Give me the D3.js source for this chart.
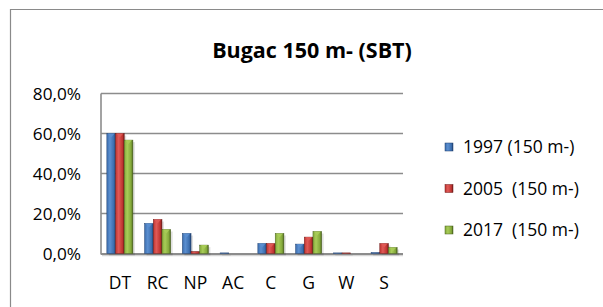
<!DOCTYPE html>
<html>
<head>
<meta charset="utf-8">
<script src="https://cdn.jsdelivr.net/npm/d3@7"></script>
<style>
  body { margin: 0; background: #fff; }
  text { font-family: "Open Sans", Lato, sans-serif; fill: #000; }
</style>
</head>
<body>
<div id="graph"></div>
<script>
var categories = ['DT', 'RC', 'NP', 'AC', 'C', 'G', 'W', 'S'];
var seriesNames = ['1997 (150 m-)', '2005  (150 m-)', '2017  (150 m-)'];
var values1997 = [60, 15, 10, 0.3, 5, 4.7, 0.3, 0.5];
var values2005 = [60, 17, 1, 0, 5, 8.2, 0.3, 5];
var values2017 = [56.7, 12, 4.2, 0, 10, 11, 0, 3];
var yTicks = [0, 20, 40, 60, 80];
var colors = [
  {light: '#5b8fd0', mid: '#3c6eae', dark: '#1f3f6e'},
  {light: '#e05a57', mid: '#bf3431', dark: '#6e1a18'},
  {light: '#a8cc58', mid: '#83a83a', dark: '#48601c'}
];

var width = 603, height = 307;
var plot = {left: 101, right: 403, top: 93.5, bottom: 253.5};

var svg = d3.select('#graph').append('svg')
  .attr('width', width).attr('height', height);

var defs = svg.append('defs');
colors.forEach(function(c, i){
  var g = defs.append('linearGradient').attr('id', 'grad' + i)
    .attr('x1', '0').attr('x2', '1').attr('y1', '0').attr('y2', '0');
  g.append('stop').attr('offset', '0%').attr('stop-color', c.mid);
  g.append('stop').attr('offset', '35%').attr('stop-color', c.light);
  g.append('stop').attr('offset', '80%').attr('stop-color', c.mid);
  g.append('stop').attr('offset', '100%').attr('stop-color', c.dark);
});

// outer chart border
svg.append('path')
  .attr('d', 'M10.5,' + height + 'V9.5H' + width)
  .attr('fill', 'none').attr('stroke', '#8a8a8a').attr('stroke-width', 1.2);

svg.append('text')
  .attr('x', 312).attr('y', 58)
  .attr('text-anchor', 'middle')
  .style('font-weight', 'bold').style('font-size', '21.5px')
  .text('Bugac 150 m- (SBT)');

var y = d3.scaleLinear().domain([0, 80]).range([plot.bottom, plot.top]);
var x0 = d3.scaleBand().domain(categories).range([plot.left, plot.right]).paddingInner(0.31).paddingOuter(0.155);
var x1 = d3.scaleBand().domain(d3.range(3)).range([0, x0.bandwidth()]);

// gridlines
svg.append('g').selectAll('line').data(yTicks.slice(1)).enter()
  .append('line')
  .attr('x1', plot.left).attr('x2', plot.right)
  .attr('y1', function(d){ return y(d); }).attr('y2', function(d){ return y(d); })
  .attr('stroke', '#8c8c8c').attr('stroke-width', 1.6);

// y axis
var yAxis = d3.axisLeft(y).tickValues(yTicks).tickSize(0).tickPadding(20)
  .tickFormat(function(d){ return d.toFixed(1).replace('.', ',') + '%'; });
var yg = svg.append('g').attr('transform', 'translate(' + plot.left + ',0)').call(yAxis);
yg.select('.domain').remove();
yg.selectAll('text').style('font-size', '17.2px').attr('dy', '0.36em');

svg.append('line')
  .attr('x1', plot.left).attr('x2', plot.left)
  .attr('y1', plot.top).attr('y2', plot.bottom + 1)
  .attr('stroke', '#8c8c8c').attr('stroke-width', 1.6);

// floor
svg.append('line')
  .attr('x1', plot.left).attr('x2', plot.right)
  .attr('y1', plot.bottom + 0.5).attr('y2', plot.bottom + 0.5)
  .attr('stroke', '#8c8c8c').attr('stroke-width', 2);
svg.append('line')
  .attr('x1', plot.left + 1).attr('x2', plot.right)
  .attr('y1', plot.bottom + 2.2).attr('y2', plot.bottom + 2.2)
  .attr('stroke', '#d6d6d6').attr('stroke-width', 1.2);

// x axis labels
var xAxis = d3.axisBottom(x0).tickSize(0).tickPadding(23);
var xg = svg.append('g').attr('transform', 'translate(0,' + plot.bottom + ')').call(xAxis);
xg.select('.domain').remove();
xg.selectAll('text').style('font-size', '17.5px');

// bars
var allSeries = [values1997, values2005, values2017];
var rows = [];
categories.forEach(function(cat, ci){
  allSeries.forEach(function(vals, si){
    rows.push({cat: cat, s: si, v: vals[ci]});
  });
});

var bars = svg.append('g').selectAll('g.bar').data(rows.filter(function(d){ return d.v > 0; })).enter()
  .append('g').attr('class', 'bar');

bars.append('rect')
  .attr('x', function(d){ return x0(d.cat) + x1(d.s) + 2; })
  .attr('y', function(d){ return y(d.v) + 2; })
  .attr('width', x1.bandwidth())
  .attr('height', function(d){ return y(0) - y(d.v); })
  .attr('fill', 'rgba(0,0,0,0.12)');

bars.append('rect')
  .attr('x', function(d){ return x0(d.cat) + x1(d.s); })
  .attr('y', function(d){ return y(d.v); })
  .attr('width', x1.bandwidth())
  .attr('height', function(d){ return y(0) - y(d.v); })
  .attr('fill', function(d){ return 'url(#grad' + d.s + ')'; })
  .attr('stroke', function(d){ return colors[d.s].dark; })
  .attr('stroke-width', 0.5);

// little bevel highlight at the top
bars.filter(function(d){ return y(0) - y(d.v) > 4; }).append('path')
  .attr('d', function(d){
    var bx = x0(d.cat) + x1(d.s), by = y(d.v), w = x1.bandwidth();
    return 'M' + (bx + 1) + ',' + by + 'H' + (bx + w - 1) + 'L' + (bx + w / 2) + ',' + (by + 4) + 'Z';
  })
  .attr('fill', function(d){ return colors[d.s].light; })
  .attr('opacity', 0.9);

// legend
var legend = svg.append('g').selectAll('g').data(seriesNames).enter()
  .append('g')
  .attr('transform', function(d, i){ return 'translate(445,' + (147 + i * 41.5) + ')'; });
legend.append('rect')
  .attr('x', 0).attr('y', -4).attr('width', 8).attr('height', 8)
  .attr('fill', function(d, i){ return 'url(#grad' + i + ')'; })
  .attr('stroke', function(d, i){ return colors[i].dark; }).attr('stroke-width', 0.5);
legend.append('text')
  .attr('x', 18).attr('y', 0).attr('dy', '0.36em')
  .style('font-size', '17.5px').style('white-space', 'pre')
  .attr('xml:space', 'preserve')
  .text(function(d){ return d; });
</script>
</body>
</html>
